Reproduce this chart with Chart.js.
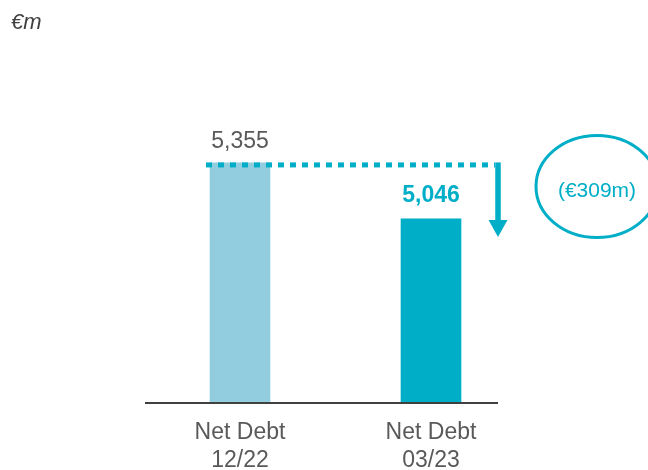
<!DOCTYPE html>
<html>
<head>
<meta charset="utf-8">
<script src="https://cdn.jsdelivr.net/npm/chart.js@4/dist/chart.umd.min.js"></script>
<style>
  html, body { margin: 0; padding: 0; background: #ffffff; }
  #wrap { position: relative; width: 648px; height: 470px; }
</style>
</head>
<body>
<div id="wrap"><canvas id="c" width="648" height="470"></canvas></div>
<script>
const categories = [['Net Debt', '12/22'], ['Net Debt', '03/23']];
const netDebt = [5355, 5046];
const valueLabels = ['5,355', '5,046'];
const changeLabel = '(€309m)';
const unitLabel = '€m';

const barColors = ['#92CDDF', '#00AEC7'];
const accent = '#00AEC7';
const FONT = '"Liberation Sans", Arial, sans-serif';

const overlay = {
  id: 'overlay',
  afterDatasetsDraw(chart) {
    const ctx = chart.ctx;
    const ys = chart.scales.y;
    const area = chart.chartArea;
    const meta = chart.getDatasetMeta(0);
    const b0 = meta.data[0], b1 = meta.data[1];
    ctx.save();
    // baseline
    ctx.strokeStyle = '#404040';
    ctx.lineWidth = 2;
    ctx.beginPath();
    ctx.moveTo(145, area.bottom - 1);
    ctx.lineTo(498, area.bottom - 1);
    ctx.stroke();

    // dotted line at first value
    const yTop = ys.getPixelForValue(netDebt[0]) + 2;
    const xEnd = 498;
    ctx.strokeStyle = accent;
    ctx.lineWidth = 5;
    ctx.setLineDash([6, 6]);
    ctx.beginPath();
    ctx.moveTo(b0.x - 34, yTop);
    ctx.lineTo(xEnd - 3, yTop);
    ctx.stroke();
    ctx.setLineDash([]);
    // arrow
    const yTip = ys.getPixelForValue(netDebt[1]) + 18;
    ctx.lineWidth = 5.5;
    ctx.beginPath();
    ctx.moveTo(xEnd, yTop - 2.5);
    ctx.lineTo(xEnd, yTip - 14);
    ctx.stroke();
    ctx.fillStyle = accent;
    ctx.beginPath();
    ctx.moveTo(xEnd - 9.5, yTip - 17);
    ctx.lineTo(xEnd + 9.5, yTip - 17);
    ctx.lineTo(xEnd, yTip);
    ctx.closePath();
    ctx.fill();

    // value labels
    ctx.textAlign = 'center';
    ctx.textBaseline = 'alphabetic';
    ctx.font = '23px ' + FONT;
    ctx.fillStyle = '#595959';
    ctx.fillText(valueLabels[0], b0.x, b0.y - 15);
    ctx.font = 'bold 23px ' + FONT;
    ctx.fillStyle = accent;
    ctx.fillText(valueLabels[1], b1.x, b1.y - 17);

    // ellipse
    ctx.strokeStyle = accent;
    ctx.lineWidth = 3;
    ctx.beginPath();
    ctx.ellipse(597, 186.5, 61, 51, 0, 0, Math.PI * 2);
    ctx.stroke();
    ctx.font = '21px ' + FONT;
    ctx.fillStyle = accent;
    ctx.textBaseline = 'middle';
    ctx.fillText(changeLabel, 597, 191);

    // unit
    ctx.textAlign = 'left';
    ctx.textBaseline = 'alphabetic';
    ctx.font = 'italic 22px ' + FONT;
    ctx.fillStyle = '#404040';
    ctx.fillText(unitLabel, 11, 29);
    ctx.restore();
  }
};

new Chart(document.getElementById('c'), {
  type: 'bar',
  data: {
    labels: categories,
    datasets: [{
      data: netDebt,
      backgroundColor: barColors,
      borderWidth: 0,
      barThickness: 60
    }]
  },
  options: {
    responsive: false,
    animation: false,
    devicePixelRatio: 1,
    layout: { padding: { left: 144.5, right: 121.5, top: 46, bottom: 0 } },
    plugins: { legend: { display: false }, tooltip: { enabled: false } },
    scales: {
      x: {
        grid: { display: false, drawTicks: false },
        border: { display: false },
        ticks: {
          padding: 15,
          color: '#595959',
          font: { family: FONT, size: 23, lineHeight: 28 / 23 }
        },
        afterFit(scale) { scale.height = 66; }
      },
      y: {
        display: false,
        min: 4025,
        max: 6000
      }
    }
  },
  plugins: [overlay]
});
</script>
</body>
</html>
